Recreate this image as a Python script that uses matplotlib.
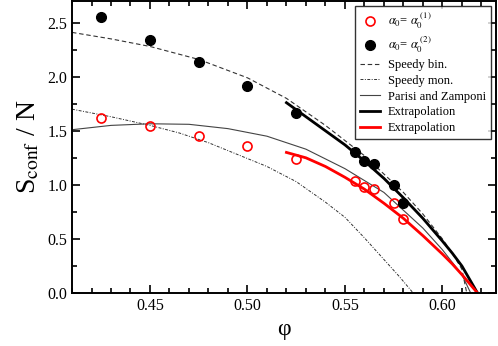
import matplotlib
matplotlib.use("Agg")
import matplotlib.pyplot as plt
from matplotlib.ticker import MultipleLocator

plt.rcParams['font.family'] = ['Liberation Serif', 'DejaVu Serif']
plt.rcParams['mathtext.fontset'] = 'stix'

# measured points
phi_pts = [0.425, 0.45, 0.475, 0.50, 0.525, 0.555, 0.56, 0.565, 0.575, 0.58]
s_alpha1 = [1.62, 1.54, 1.45, 1.36, 1.24, 1.04, 0.98, 0.96, 0.83, 0.68]
s_alpha2 = [2.55, 2.34, 2.14, 1.91, 1.66, 1.30, 1.22, 1.19, 1.00, 0.83]

# Speedy binary mixture (dashed)
phi_sb = [0.41, 0.43, 0.45, 0.475, 0.50, 0.52, 0.54, 0.56, 0.58, 0.59, 0.60, 0.605, 0.61, 0.6125]
s_sb = [2.41, 2.35, 2.28, 2.16, 1.99, 1.80, 1.55, 1.27, 0.93, 0.73, 0.50, 0.37, 0.22, 0.0]

# Speedy monodisperse (dash-dot)
phi_sm = [0.41, 0.43, 0.45, 0.465, 0.48, 0.495, 0.51, 0.525, 0.54, 0.55, 0.56, 0.57, 0.578, 0.585]
s_sm = [1.70, 1.63, 1.55, 1.48, 1.39, 1.28, 1.17, 1.03, 0.84, 0.70, 0.51, 0.31, 0.15, 0.0]

# Parisi and Zamponi (thin solid)
phi_pz = [0.41, 0.43, 0.45, 0.47, 0.49, 0.51, 0.53, 0.55, 0.57, 0.59, 0.60, 0.61, 0.6145]
s_pz = [1.51, 1.55, 1.565, 1.56, 1.52, 1.45, 1.33, 1.15, 0.93, 0.60, 0.40, 0.17, 0.0]

# extrapolations
phi_ex2 = [0.52, 0.53, 0.54, 0.55, 0.56, 0.57, 0.58, 0.59, 0.60, 0.605, 0.61, 0.618]
s_ex2 = [1.76, 1.63, 1.50, 1.37, 1.22, 1.06, 0.88, 0.69, 0.48, 0.37, 0.25, 0.0]
phi_ex1 = [0.52, 0.53, 0.54, 0.55, 0.56, 0.57, 0.58, 0.59, 0.60, 0.605, 0.61, 0.618]
s_ex1 = [1.30, 1.25, 1.17, 1.07, 0.96, 0.83, 0.69, 0.53, 0.36, 0.27, 0.17, 0.0]

fig = plt.figure(figsize=(4.98, 3.46), dpi=100)
ax = fig.add_axes([0.1446, 0.1532, 0.8514, 0.8438])

ax.plot(phi_pts, s_alpha1, 'o', ms=6.5, mfc='none', mec='red', mew=1.2,
        label=r'$\alpha_0$= $\alpha_0^{\ (1)}$', zorder=5)
ax.plot(phi_pts, s_alpha2, 'o', ms=7, color='black',
        label=r'$\alpha_0$= $\alpha_0^{\ (2)}$', zorder=5)
ax.plot(phi_sb, s_sb, '--', color='#333333', lw=0.8, dashes=(4, 2.5), label='Speedy bin.')
ax.plot(phi_sm, s_sm, '-.', color='#333333', lw=0.7, dashes=(3, 1.5, 1, 1.5), label='Speedy mon.')
ax.plot(phi_pz, s_pz, '-', color='#444444', lw=0.8, label='Parisi and Zamponi')
ax.plot(phi_ex2, s_ex2, '-', color='black', lw=2.0, label='Extrapolation')
ax.plot(phi_ex1, s_ex1, '-', color='red', lw=2.0, label='Extrapolation')

ax.set_xlim(0.41, 0.6275)
ax.set_ylim(0.0, 2.7)
ax.xaxis.set_major_locator(MultipleLocator(0.05))
ax.xaxis.set_minor_locator(MultipleLocator(0.01))
ax.yaxis.set_major_locator(MultipleLocator(0.5))
ax.yaxis.set_minor_locator(MultipleLocator(0.25))
ax.set_xticks([0.45, 0.50, 0.55, 0.60])
ax.set_xticklabels(['0.45', '0.50', '0.55', '0.60'])
ax.tick_params(which='both', direction='in', top=True, right=True, labelsize=11.5, width=1.2)
ax.tick_params(which='major', length=6)
ax.tick_params(which='minor', length=3.5)
for sp in ax.spines.values():
    sp.set_linewidth(1.4)

ax.set_xlabel('φ', fontsize=17)
ax.set_ylabel(r'S$_{\rm conf}$ / N', fontsize=20)

leg = ax.legend(loc='upper right', fontsize=9, frameon=True, fancybox=False,
                edgecolor='black', handlelength=1.6, labelspacing=0.3,
                borderpad=0.4, handletextpad=0.6, borderaxespad=0.4)
leg.get_frame().set_linewidth(1.0)

fig.savefig('out.png', dpi=100)
